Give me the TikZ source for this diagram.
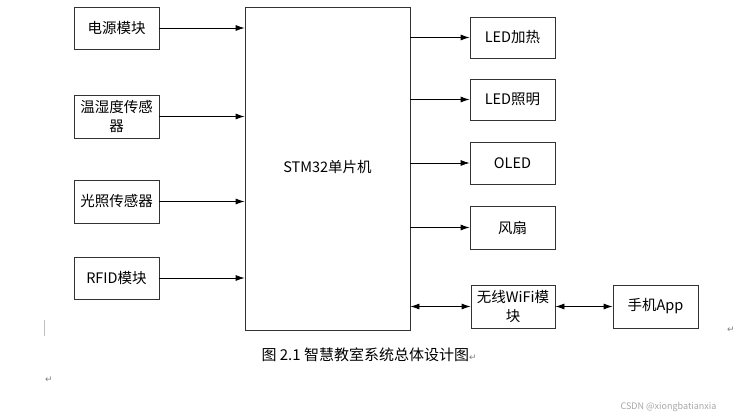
\documentclass[tikz,border=0pt]{standalone}
\usepackage{fontspec}
\setmainfont{Noto Sans CJK SC}
\newfontfamily\symfont{DejaVu Sans}
\usetikzlibrary{arrows.meta}
\begin{document}
\begin{tikzpicture}[x=1pt,y=-1pt,
  blk/.style={draw=black!80,line width=0.8pt,inner sep=0pt,align=center,font=\fontsize{14.5}{19}\selectfont},
  arr/.style={line width=0.8pt,-{Latex[length=9pt,width=6pt]}},
  darr/.style={line width=0.8pt,{Latex[length=9pt,width=6pt]}-{Latex[length=9pt,width=6pt]}}]
\useasboundingbox (0,0) rectangle (736,419);
% left boxes
\node[blk,minimum width=85pt,minimum height=42pt] (pwr) at (116.5,28) {电源模块};
\node[blk,minimum width=85pt,minimum height=43pt,text width=83pt] (th) at (116.5,116.5) {温湿度传感\\器};
\node[blk,minimum width=85pt,minimum height=43pt] (lux) at (116.5,201.5) {光照传感器};
\node[blk,minimum width=85pt,minimum height=42pt] (rfid) at (116.5,278) {RFID模块};
% MCU
\node[blk,minimum width=165pt,minimum height=323pt] (mcu) at (327.5,168.5) {};
\node[font=\fontsize{14.5}{19}\selectfont] (mcut) at (327.5,167) {STM32单片机};
% right boxes
\node[blk,minimum width=85pt,minimum height=41pt] (heat) at (512.5,37.5) {LED加热};
\node[blk,minimum width=85pt,minimum height=41pt] (light) at (512.5,99.5) {LED照明};
\node[blk,minimum width=85pt,minimum height=42pt] (oled) at (512.5,163) {OLED};
\node[blk,minimum width=85pt,minimum height=43pt] (fan) at (512.5,227.5) {风扇};
\node[blk,minimum width=84pt,minimum height=43pt,text width=82pt] (wifi) at (513,306.5) {无线WiFi模\\块};
\node[blk,minimum width=85pt,minimum height=43pt] (app) at (655.5,306.5) {手机App};
% arrows in
\draw[arr] (pwr.east) -- (pwr.east -| mcu.west);
\draw[arr] (th.east) -- (th.east -| mcu.west);
\draw[arr] (lux.east) -- (lux.east -| mcu.west);
\draw[arr] (rfid.east) -- (rfid.east -| mcu.west);
% arrows out
\draw[arr] (heat.west -| mcu.east) -- (heat.west);
\draw[arr] (light.west -| mcu.east) -- (light.west);
\draw[arr] (oled.west -| mcu.east) -- (oled.west);
\draw[arr] (fan.west -| mcu.east) -- (fan.west);
\draw[darr] (wifi.west -| mcu.east) -- (wifi.west);
\draw[darr] (wifi.east) -- (app.west);
% caption and marks
\node[font=\fontsize{15}{17}\selectfont,anchor=west] (cap) at (258,355) {图 2.1 智慧教室系统总体设计图{\symfont\fontsize{9}{10}\selectfont\color{black!50}↵}};
\coordinate (bar1) at (44,320);
\coordinate (bar2) at (44,336);
\draw[black!25,line width=0.8pt] (bar1) -- (bar2);
\node[font=\symfont\fontsize{9}{10}\selectfont,text=black!50] (ret1) at (49,380) {↵};
\node[font=\symfont\fontsize{9}{10}\selectfont,text=black!50] (ret2) at (731,330) {↵};
\node[font=\fontsize{9}{10}\selectfont,text=black!35,anchor=east] (wm) at (720,407) {CSDN @xiongbatianxia};
\end{tikzpicture}
\end{document}
